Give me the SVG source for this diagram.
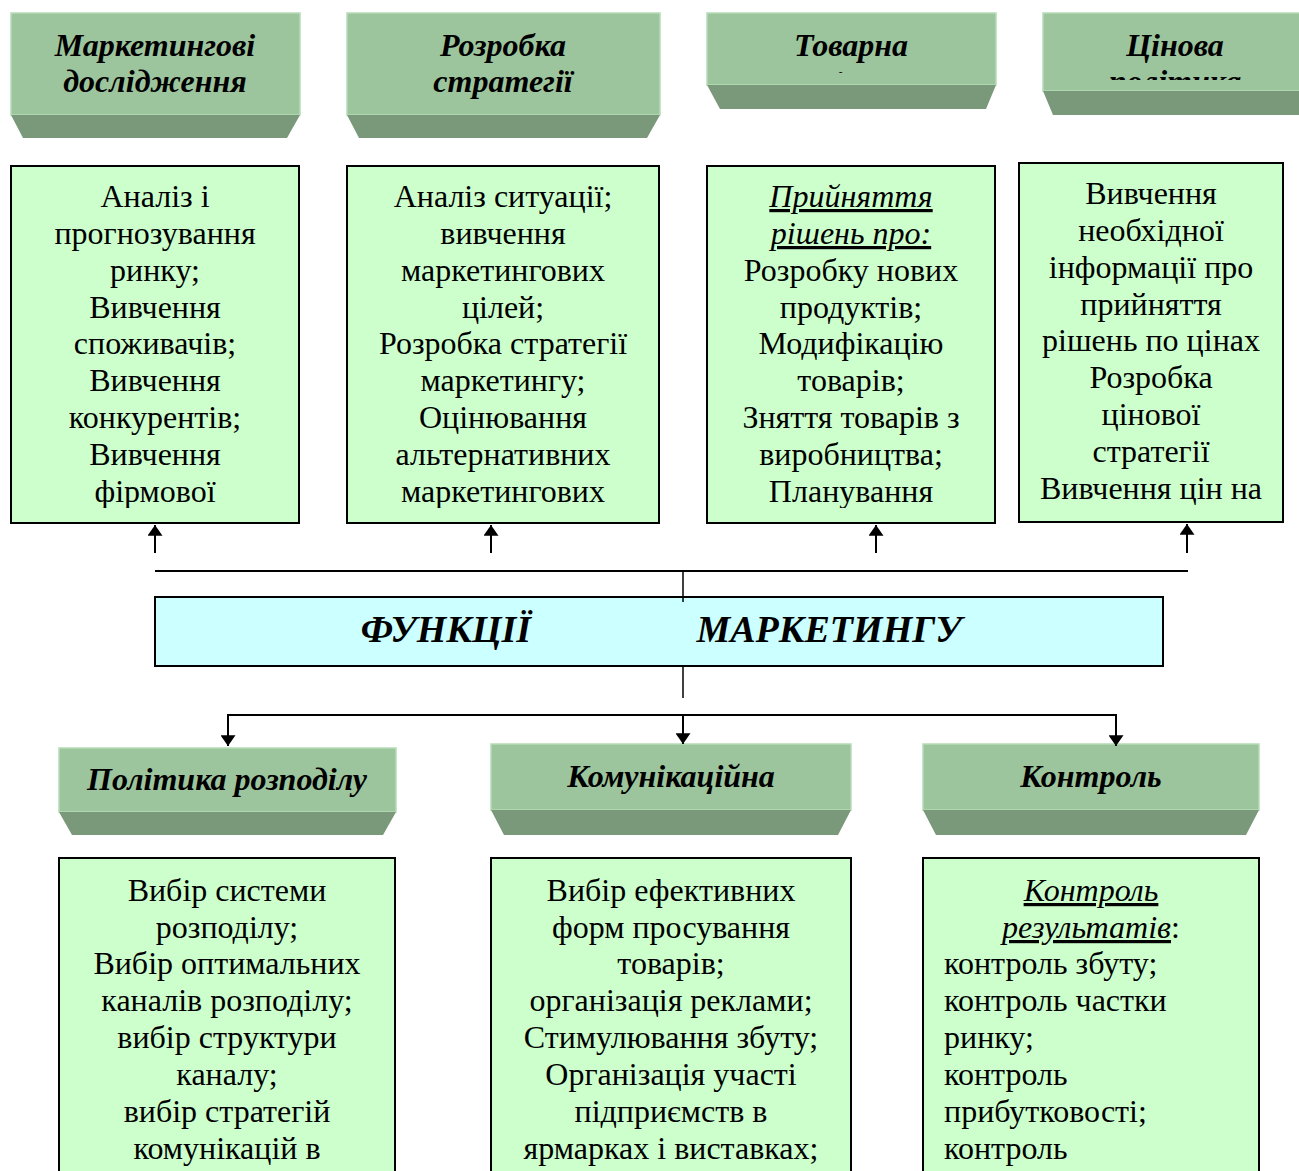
<svg xmlns="http://www.w3.org/2000/svg" width="1299" height="1171" viewBox="0 0 1299 1171">
<style>
.hd{fill:#9DC59D;stroke:#B6DCB6;stroke-width:1.5}
.tr{fill:#7A987A}
.ht{font-family:"Liberation Serif","Times New Roman",serif;font-size:32px;font-weight:bold;font-style:italic;fill:#000;text-anchor:middle}
.bx{fill:#CCFFCC;stroke:#000;stroke-width:2}
.bt{font-family:"Liberation Serif","Times New Roman",serif;font-size:32px;fill:#000;text-anchor:middle}
.lt{text-anchor:start}
.u{font-style:italic;text-decoration:underline}
.ln{stroke:#000;stroke-width:2;fill:none}
.mt{font-family:"Liberation Serif","Times New Roman",serif;font-size:38px;font-weight:bold;font-style:italic;fill:#000;text-anchor:middle}
</style>
<defs>
<marker id="ah" viewBox="0 0 10 14" refX="10" refY="7" markerWidth="11" markerHeight="15" markerUnits="userSpaceOnUse" orient="auto">
<path d="M0,0 L10,7 L0,14 z" fill="#000"/>
</marker>
<clipPath id="c3"><rect x="707" y="13" width="289" height="60"/></clipPath>
<clipPath id="c4"><rect x="1043" y="13" width="256" height="67"/></clipPath>
<clipPath id="c6"><rect x="491" y="744" width="360" height="58"/></clipPath>
<clipPath id="cb1"><rect x="11" y="166" width="288" height="342"/></clipPath>
<clipPath id="cb2"><rect x="347" y="166" width="312" height="342"/></clipPath>
<clipPath id="cb3"><rect x="707" y="166" width="288" height="342"/></clipPath>
<clipPath id="cb4"><rect x="1019" y="163" width="264" height="350"/></clipPath>
</defs>
<rect width="1299" height="1171" fill="#fff"/>

<g id="h1">
<rect class="hd" x="11" y="13" width="289" height="102"/>
<polygon class="tr" points="11,115 300,115 287,138 23,138"/>
<text class="ht" x="155" y="56">Маркетингові</text>
<text class="ht" x="155" y="92">дослідження</text>
</g>
<g id="h2">
<rect class="hd" x="347" y="13" width="313" height="102"/>
<polygon class="tr" points="347,115 660,115 647,138 359,138"/>
<text class="ht" x="503" y="56">Розробка</text>
<text class="ht" x="503" y="92">стратегії</text>
</g>
<g id="h3">
<rect class="hd" x="707" y="13" width="289" height="72"/>
<polygon class="tr" points="707,85 996,85 986,109 720,109"/>
<text class="ht" x="851" y="56">Товарна</text>
<text class="ht" x="851" y="94" clip-path="url(#c3)">політика</text>
</g>
<g id="h4">
<rect class="hd" x="1043" y="13" width="258" height="78"/>
<polygon class="tr" points="1043,91 1299,91 1299,115 1053,115"/>
<text class="ht" x="1175" y="56">Цінова</text>
<text class="ht" x="1175" y="92" clip-path="url(#c4)">політика</text>
</g>

<g id="b1">
<rect class="bx" x="11" y="166" width="288" height="357"/>
<g clip-path="url(#cb1)">
<text class="bt" x="155" y="207">Аналіз і</text>
<text class="bt" x="155" y="244">прогнозування</text>
<text class="bt" x="155" y="281">ринку;</text>
<text class="bt" x="155" y="318">Вивчення</text>
<text class="bt" x="155" y="354">споживачів;</text>
<text class="bt" x="155" y="391">Вивчення</text>
<text class="bt" x="155" y="428">конкурентів;</text>
<text class="bt" x="155" y="465">Вивчення</text>
<text class="bt" x="155" y="502">фірмової</text>
</g>
</g>
<g id="b2">
<rect class="bx" x="347" y="166" width="312" height="357"/>
<g clip-path="url(#cb2)">
<text class="bt" x="503" y="207">Аналіз ситуації;</text>
<text class="bt" x="503" y="244">вивчення</text>
<text class="bt" x="503" y="281">маркетингових</text>
<text class="bt" x="503" y="318">цілей;</text>
<text class="bt" x="503" y="354">Розробка стратегії</text>
<text class="bt" x="503" y="391">маркетингу;</text>
<text class="bt" x="503" y="428">Оцінювання</text>
<text class="bt" x="503" y="465">альтернативних</text>
<text class="bt" x="503" y="502">маркетингових</text>
</g>
</g>
<g id="b3">
<rect class="bx" x="707" y="166" width="288" height="357"/>
<g clip-path="url(#cb3)">
<text class="bt u" x="851" y="207">Прийняття</text>
<text class="bt u" x="851" y="244">рішень про:</text>
<text class="bt" x="851" y="281">Розробку нових</text>
<text class="bt" x="851" y="318">продуктів;</text>
<text class="bt" x="851" y="354">Модифікацію</text>
<text class="bt" x="851" y="391">товарів;</text>
<text class="bt" x="851" y="428">Зняття товарів з</text>
<text class="bt" x="851" y="465">виробництва;</text>
<text class="bt" x="851" y="502">Планування</text>
</g>
</g>
<g id="b4">
<rect class="bx" x="1019" y="163" width="264" height="359"/>
<g clip-path="url(#cb4)">
<text class="bt" x="1151" y="204">Вивчення</text>
<text class="bt" x="1151" y="241">необхідної</text>
<text class="bt" x="1151" y="278">інформації про</text>
<text class="bt" x="1151" y="315">прийняття</text>
<text class="bt" x="1151" y="351">рішень по цінах</text>
<text class="bt" x="1151" y="388">Розробка</text>
<text class="bt" x="1151" y="425">цінової</text>
<text class="bt" x="1151" y="462">стратегії</text>
<text class="bt" x="1151" y="499">Вивчення цін на</text>
</g>
</g>

<g id="center">
<rect x="155" y="597" width="1008" height="69" fill="#CCFFFF" stroke="#000" stroke-width="2"/>
<text class="mt" x="446" y="642">ФУНКЦІЇ</text>
<text class="mt" x="829" y="642">МАРКЕТИНГУ</text>
</g>

<g id="h5">
<rect class="hd" x="59" y="748" width="337" height="64"/>
<polygon class="tr" points="59,812 396,812 383,835 72,835"/>
<text class="ht" x="227" y="790">Політика розподілу</text>
</g>
<g id="h6">
<rect class="hd" x="491" y="744" width="360" height="66"/>
<polygon class="tr" points="491,810 851,810 838,835 504,835"/>
<text class="ht" x="671" y="787">Комунікаційна</text>
<text class="ht" x="671" y="825" clip-path="url(#c6)">політика</text>
</g>
<g id="h7">
<rect class="hd" x="923" y="744" width="336" height="66"/>
<polygon class="tr" points="923,810 1259,810 1246,835 936,835"/>
<text class="ht" x="1091" y="787">Контроль</text>
</g>

<g id="b5">
<rect class="bx" x="59" y="858" width="336" height="330"/>
<text class="bt" x="227" y="901">Вибір системи</text>
<text class="bt" x="227" y="938">розподілу;</text>
<text class="bt" x="227" y="974">Вибір оптимальних</text>
<text class="bt" x="227" y="1011">каналів розподілу;</text>
<text class="bt" x="227" y="1048">вибір структури</text>
<text class="bt" x="227" y="1085">каналу;</text>
<text class="bt" x="227" y="1122">вибір стратегій</text>
<text class="bt" x="227" y="1159">комунікацій в</text>
</g>
<g id="b6">
<rect class="bx" x="491" y="858" width="360" height="330"/>
<text class="bt" x="671" y="901">Вибір ефективних</text>
<text class="bt" x="671" y="938">форм просування</text>
<text class="bt" x="671" y="974">товарів;</text>
<text class="bt" x="671" y="1011">організація реклами;</text>
<text class="bt" x="671" y="1048">Стимулювання збуту;</text>
<text class="bt" x="671" y="1085">Організація участі</text>
<text class="bt" x="671" y="1122">підприємств в</text>
<text class="bt" x="671" y="1159">ярмарках і виставках;</text>
</g>
<g id="b7">
<rect class="bx" x="923" y="858" width="336" height="330"/>
<text class="bt u" x="1091" y="901">Контроль</text>
<text class="bt" x="1091" y="938"><tspan class="u">результатів</tspan>:</text>
<text class="bt lt" x="944" y="974">контроль збуту;</text>
<text class="bt lt" x="944" y="1011">контроль частки</text>
<text class="bt lt" x="944" y="1048">ринку;</text>
<text class="bt lt" x="944" y="1085">контроль</text>
<text class="bt lt" x="944" y="1122">прибутковості;</text>
<text class="bt lt" x="944" y="1159">контроль</text>
</g>

<g id="connectors">
<line class="ln" x1="155" y1="553" x2="155" y2="525" marker-end="url(#ah)"/>
<line class="ln" x1="491" y1="553" x2="491" y2="525" marker-end="url(#ah)"/>
<line class="ln" x1="876" y1="553" x2="876" y2="525" marker-end="url(#ah)"/>
<line class="ln" x1="1187" y1="553" x2="1187" y2="524" marker-end="url(#ah)"/>
<line class="ln" x1="155" y1="571" x2="1188" y2="571"/>
<line x1="683" y1="571" x2="683" y2="602" stroke="#000" stroke-width="1.5"/>
<line x1="683" y1="666" x2="683" y2="698" stroke="#000" stroke-width="1.5"/>
<polyline class="ln" points="228,746 228,715 1116,715 1116,746" marker-end="url(#ah)"/>
<line class="ln" x1="228" y1="720" x2="228" y2="746" marker-end="url(#ah)"/>
<line class="ln" x1="683" y1="715" x2="683" y2="744" marker-end="url(#ah)"/>
</g>
</svg>
